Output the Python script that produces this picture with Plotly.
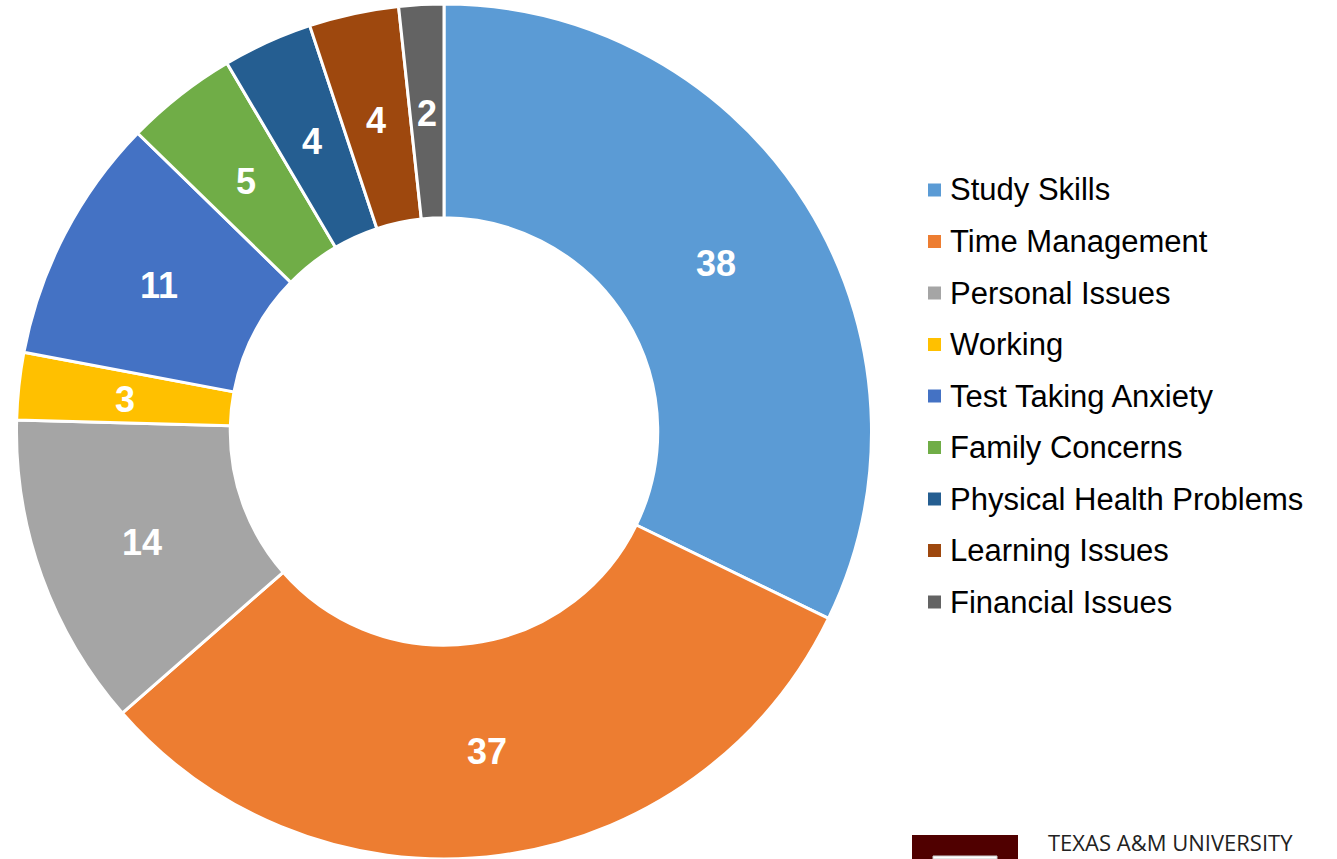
import math
import plotly.graph_objects as go

W, H = 1337, 859

categories = ["Study Skills", "Time Management", "Personal Issues", "Working",
              "Test Taking Anxiety", "Family Concerns", "Physical Health Problems",
              "Learning Issues", "Financial Issues"]
counts = [38, 37, 14, 3, 11, 5, 4, 4, 2]
colors = ["#5B9BD5", "#ED7D31", "#A5A5A5", "#FFC000", "#4472C4",
          "#70AD47", "#255E91", "#9E480E", "#636363"]

FONT = "Arial, Liberation Sans, sans-serif"

# donut geometry in pixels (bottom of the ring touches the page edge)
R, HOLE = 427.5, 0.5
CX, CY = 444, H - R


def px_x(x):
    return x / W


def px_y(y):
    return 1 - y / H


fig = go.Figure(go.Pie(
    labels=categories,
    values=counts,
    marker=dict(colors=colors, line=dict(color="white", width=3)),
    hole=HOLE,
    sort=False,
    direction="clockwise",
    rotation=0,
    textinfo="none",
    domain=dict(x=[px_x(CX - R), px_x(CX + R)], y=[0, px_y(CY - R)]),
    showlegend=False,
    hoverinfo="label+value",
))

shapes = []
annotations = []

# value labels sit at the middle of the ring, on each slice's mid angle
total = sum(counts)
r_mid = R * (1 + HOLE) / 2
cum = 0
for v in counts:
    theta = (cum + v / 2) / total * 2 * math.pi
    cum += v
    annotations.append(dict(text=f"<b>{v}</b>", xref="paper", yref="paper",
                            x=px_x(CX + r_mid * math.sin(theta)),
                            y=px_y(CY - r_mid * math.cos(theta)),
                            xanchor="center", yanchor="middle", showarrow=False,
                            yshift=-2,
                            font=dict(family=FONT, size=36, color="white")))

# legend drawn by hand so the row spacing matches the original
for i, (name, col) in enumerate(zip(categories, colors)):
    yc = 190 + i * 51.5
    shapes.append(dict(type="rect", xref="paper", yref="paper",
                       x0=px_x(928), x1=px_x(941), y0=px_y(yc + 6.5), y1=px_y(yc - 6.5),
                       fillcolor=col, line=dict(width=0)))
    annotations.append(dict(text=name, xref="paper", yref="paper",
                            x=px_x(948), y=px_y(yc), xanchor="left", yanchor="middle",
                            showarrow=False, font=dict(family=FONT, size=31, color="#000")))

# university logo in the corner
shapes.append(dict(type="rect", xref="paper", yref="paper",
                   x0=px_x(912), x1=px_x(1018), y0=0, y1=px_y(835),
                   fillcolor="#500000", line=dict(width=0)))
shapes.append(dict(type="rect", xref="paper", yref="paper",
                   x0=px_x(933), x1=px_x(997), y0=0, y1=px_y(856),
                   fillcolor="white", line=dict(color="#cccccc", width=1)))
annotations.append(dict(text="TEXAS A&amp;M UNIVERSITY", xref="paper", yref="paper",
                        x=px_x(1046), y=px_y(842), xanchor="left", yanchor="middle",
                        showarrow=False, font=dict(family="Open Sans", size=22, color="#222")))

fig.update_layout(
    width=W, height=H,
    margin=dict(l=0, r=0, t=0, b=0),
    paper_bgcolor="white",
    plot_bgcolor="white",
    shapes=shapes,
    annotations=annotations,
)

fig.write_html("out.html", config={"displayModeBar": False},
               post_script="document.body.style.margin='0px';")
